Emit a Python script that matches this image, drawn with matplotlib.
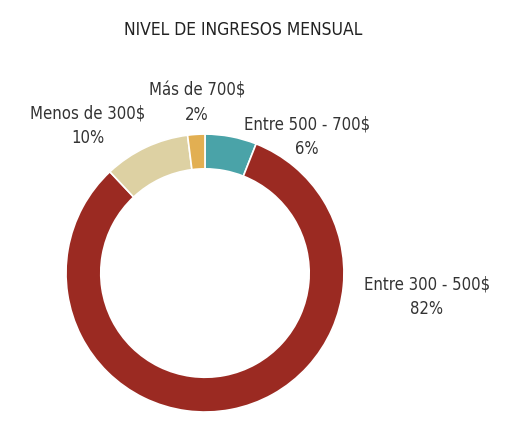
import matplotlib
matplotlib.use("Agg")
import matplotlib.pyplot as plt

categories = ["Entre 500 - 700$", "Entre 300 - 500$", "Menos de 300$", "Más de 700$"]
values = [6, 82, 10, 2]
colors = ["#4AA3A8", "#9B2A22", "#DDD1A3", "#E2AF52"]
title = "NIVEL DE INGRESOS MENSUAL"

plt.rcParams['font.family'] = ['DejaVu Sans']
plt.rcParams['font.stretch'] = 'condensed'

fig = plt.figure(figsize=(5.09, 4.23), dpi=100)
ax = fig.add_axes([0.1297, 0.026, 0.546, 0.657])
wedges, _ = ax.pie(values, colors=colors, startangle=90, counterclock=False,
                   radius=1.0, wedgeprops=dict(width=0.25, edgecolor='white', linewidth=1.2))
ax.set_xlim(-1, 1)
ax.set_ylim(-1, 1)
ax.set_aspect('equal')

label_pos = [(0.734, 0.978), (1.597, -0.172), (-0.842, 1.058), (-0.058, 1.223)]
for cat, v, (x, y) in zip(categories, values, label_pos):
    ax.text(x, y, f"{cat}\n{v}%", ha='center', va='center', fontsize=12,
            color='#333333', linespacing=1.45, clip_on=False, fontstretch='condensed')

fig.text(243/509, 1 - 30/423, title, ha='center', va='center', fontsize=12.5,
         color='#222222', fontstretch='condensed')

fig.savefig("out.png", dpi=100)
